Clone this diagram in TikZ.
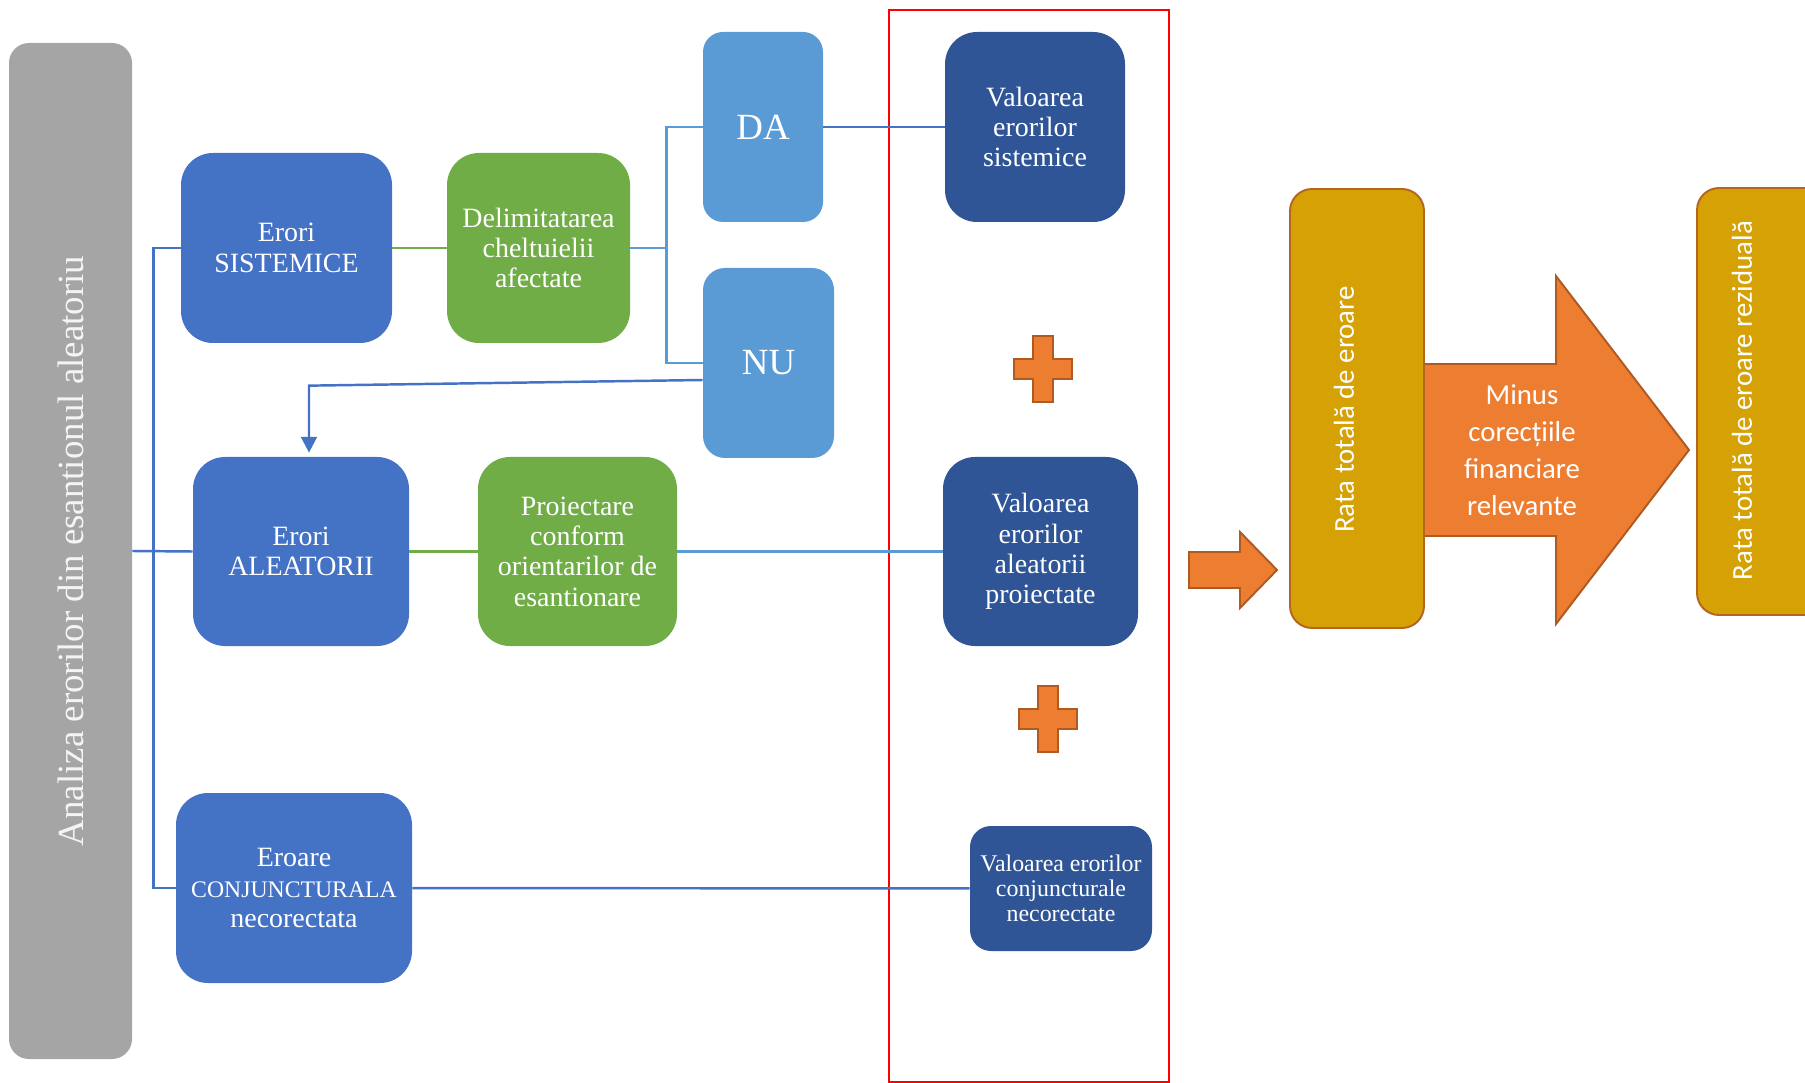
\documentclass[tikz,border=0pt]{standalone}
\usepackage{fontspec}
\setmainfont{Liberation Serif}
\newfontfamily\calibri{Carlito}
\usetikzlibrary{calc}
\usetikzlibrary{arrows.meta}
\definecolor{blueA}{HTML}{4472C4}
\definecolor{blueL}{HTML}{5B9BD5}
\definecolor{greenF}{HTML}{70AD47}
\definecolor{navyF}{HTML}{2F5597}
\definecolor{grayF}{HTML}{A5A5A5}
\definecolor{grayT}{HTML}{F4F4F4}
\definecolor{goldF}{HTML}{D5A105}
\definecolor{goldD}{HTML}{B4651E}
\definecolor{orangeF}{HTML}{ED7D31}
\definecolor{orangeD}{HTML}{AE5A21}
\tikzset{
  block/.style = {fill=#1, text=white, align=center, inner sep=0pt,
    font=\fontsize{15.9}{17.3}\selectfont},
  boxSize/.style 2 args = {minimum width=#1*0.2mm, minimum height=#2*0.2mm},
  corner/.style = {rounded corners=#1*0.2mm},
  link/.style = {draw=#1, line width=1.4pt},
  frame/.style = {draw=#1, line width=1.2pt},
  orangeArrow/.style = {fill=orangeF, draw=orangeD, line width=1.1pt},
  goldBox/.style = {fill=goldF, draw=goldD, line width=1.1pt, corner=22},
  sideText/.style = {text=white, inner sep=0pt, font=\calibri\fontsize{16.4}{21}\selectfont, align=center}
}
\newcommand{\plusSign}[2][]{%
  % #1: optional parameters
  % #2: centre of the sign
  \begin{scope}[shift={(#2)}, #1]
    \draw[orangeArrow] (-10,-33) -- (10,-33) -- (10,-10) -- (29,-10) -- (29,10)
      -- (10,10) -- (10,33) -- (-10,33) -- (-10,10) -- (-29,10) -- (-29,-10)
      -- (-10,-10) -- cycle;
  \end{scope}
}

\begin{document}
\begin{tikzpicture}[x=0.2mm, y=-0.2mm]

    \useasboundingbox (0,0) rectangle (1805,1083);

    % Left bar
    \node[block=grayF, text=grayT, boxSize={1016}{123}, corner=20, rotate=90,
      font=\fontsize{21}{24}\selectfont] (analiza) at (70.5,551)
      {Analiza erorilor din esantionul aleatoriu};

    % Error types
    \node[block=blueA, boxSize={211}{190}, corner=32] (sist) at (286.5,248) {Erori\\SISTEMICE};
    \node[block=blueA, boxSize={216}{189}, corner=32] (alea) at (301,551.5) {Erori\\ALEATORII};
    \node[block=blueA, boxSize={236}{190}, corner=32] (conj) at (294,888)
      {Eroare\\{\fontsize{13.5}{17.3}\selectfont CONJUNCTURALA}\\necorectata};

    % Treatment
    \node[block=greenF, boxSize={183}{190}, corner=32] (delim) at (538.5,248)
      {Delimitatarea\\cheltuielii\\afectate};
    \node[block=greenF, boxSize={199}{189}, corner=32] (proi) at (577.5,551.5)
      {Proiectare\\conform\\orientarilor de\\esantionare};

    % Decision
    \node[block=blueL, boxSize={120}{190}, corner=20, font=\fontsize{21}{24}\selectfont] (da) at (763,127) {DA};
    \node[block=blueL, boxSize={131}{190}, corner=22, font=\fontsize{21}{24}\selectfont] (nu) at (768.5,363) {NU};

    % Values
    \node[block=navyF, boxSize={180}{190}, corner=32] (valsist) at (1035,127)
      {Valoarea\\erorilor\\sistemice};
    \node[block=navyF, boxSize={195}{189}, corner=32] (valalea) at (1040.5,551.5)
      {Valoarea\\erorilor\\aleatorii\\proiectate};
    \node[block=navyF, boxSize={182}{125}, corner=21, font=\fontsize{13.6}{14.2}\selectfont] (valconj) at (1061,888.5)
      {Valoarea erorilor\\conjuncturale\\necorectate};

    \plusSign{1043,369}
    \plusSign{1048,719}

    \draw[frame=red] (889,10) rectangle (1169,1082);

    % Connectors
    \draw[link=blueA] (sist.west) -- ++(-27,0) |- (conj.west);
    \draw[link=blueA] (analiza.south) -- (alea.west);
    \draw[link=greenF] (sist) -- (delim);
    \draw[link=greenF] (alea) -- (proi);
    \draw[link=blueL] (delim.east) -- ++(36,0) coordinate (fork);
    \draw[link=blueL] (da.west) -| (fork) |- (nu.west);
    \draw[link=blueA] (da) -- (valsist);
    \draw[link=blueL] (proi) -- (valalea);
    \draw[link=blueA] (conj) -- (valconj);
    \draw[link=blueA, -{Triangle[length=9pt,width=9pt]}] ($(nu.west)+(0,17)$)
      -- ($(alea.north)+(8,-71)$) -- ($(alea.north)+(8,-4)$);

    % Totals
    \draw[orangeArrow] (1189,552) -- (1240,552) -- (1240,532) -- (1277,570)
      -- (1240,608) -- (1240,588) -- (1189,588) -- cycle;
    \draw[orangeArrow] (1424,364) -- (1556,364) -- (1556,276) -- (1689,450)
      -- (1556,624) -- (1556,536) -- (1424,536) -- cycle;
    \node[sideText] (minus) at (1522,450)
      {Minus\\corecțiile\\financiare\\relevante};

    \node[goldBox, boxSize={439}{134}, rotate=90] (rata) at (1357,408.5) {};
    \node[sideText, rotate=90] (rataText) at (1344,409.5) {Rata totală de eroare};
    \node[goldBox, boxSize={427}{134}, rotate=90] (rezid) at (1764,401.5) {};
    \node[sideText, rotate=90] (rezidText) at (1742,400.5) {Rata totală de eroare reziduală};

\end{tikzpicture}
\end{document}
